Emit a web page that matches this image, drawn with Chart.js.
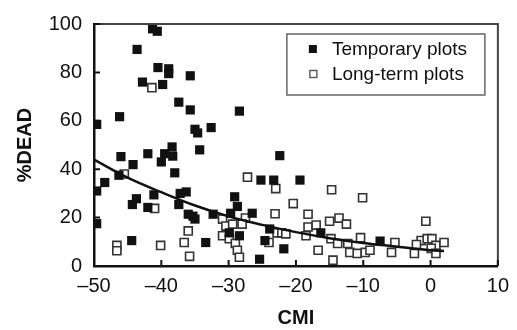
<!DOCTYPE html>
<html>
<head>
<meta charset="utf-8">
<script src="https://cdn.jsdelivr.net/npm/chart.js@4"></script>
<style>
html,body{margin:0;padding:0;background:#fff;}
#wrap{width:517px;height:330px;}
</style>
</head>
<body>
<div id="wrap"><canvas id="c" width="517" height="330"></canvas></div>
<script>
// ---- data ----
const seriesNames = ['Temporary plots', 'Long-term plots'];
const xTickLabels = ['\u201350', '\u201340', '\u201330', '\u201320', '\u201310', '0', '10'];
const yTickLabels = ['0', '20', '40', '60', '80', '100'];
const xAxisTitle = 'CMI';
const yAxisTitle = '%DEAD';

const temporaryCMI = [-41.3,-40.6,-43.6,-40.5,-38.9,-38.9,-35.7,-42.8,-39.8,-37.4,-35.7,-28.4,-49.6,-46.2,-35.0,-34.6,-32.6,-34.3,-42.0,-38.4,-39.5,-38.3,-46.0,-44.2,-40.0,-38.0,-48.4,-49.6,-46.3,-49.6,-44.3,-43.7,-44.4,-42.0,-41.1,-37.2,-37.4,-36.3,-36.0,-35.3,-35.0,-33.4,-32.3,-29.1,-22.4,-25.2,-23.3,-28.7,-29.7,-26.5,-29.9,-28.4,-25.4,-23.9,-24.6,-21.8,-19.4,-16.3,-7.5];
const temporaryDead = [98,97,89.5,82,81.5,79.5,78.6,76,75,67.7,64.5,64,58.5,61.7,56.5,55,57.2,48,46.4,49.2,46.4,45.4,45.2,41.9,43,38.5,34.5,31,37.5,17.5,25.4,27.8,10.5,24.2,29.4,30,25.4,30.6,21.4,20.6,19.4,9.7,21.4,28.6,45.6,35.5,35.5,24.6,21.8,21.8,13.7,12.5,2.8,15.3,10.5,7.1,35.5,13.7,10.3];

const longTermCMI = [-41.4,-45.5,-46.6,-46.6,-41.0,-40.1,-36.0,-36.6,-35.8,-27.2,-23.0,-27.5,-30.9,-30.4,-28.0,-29.4,-30.9,-29.9,-29.0,-28.7,-28.4,-23.1,-22.8,-22.1,-24.0,-14.7,-10.1,-20.4,-18.2,-15.0,-13.6,-12.5,-18.2,-17.0,-18.5,-21.5,-14.8,-13.8,-12.3,-10.4,-16.7,-14.5,-12.0,-10.9,-9.7,-9.0,-5.3,-5.8,-2.4,-0.7,-1.4,-0.5,0.2,0.8,0.1,2.0,0.8,-2.1];
const longTermDead = [73.7,38,8.5,6.3,23.8,8.5,14.5,9.7,4,36.7,32,19.8,19.4,16.5,17.3,17.3,12.5,11.3,9.3,6.5,3.6,21.6,13.7,13.7,9.7,31.5,28.2,25.8,21.4,18.5,19.8,17.3,16.1,16.9,12.5,13.3,11.3,9.3,9.3,11.7,6.5,2.4,5.6,5.2,5.6,6.5,9.7,5.6,5.2,18.5,10.5,11.3,11.3,8.5,7.3,9.7,5.2,8.9];

// fitted trend curve
const trendCMI  = [-50, -45, -40, -35, -30, -25, -20, -15, -10, -5, 0, 2];
const trendDead = [44, 36.5, 30.5, 25, 20.5, 17, 14, 11.5, 9.5, 8, 6.5, 6.2];

// ---- build ----
const toPts = (xs, ys) => xs.map((x, i) => ({x: x, y: ys[i]}));
const FONT = '"Liberation Sans", Arial, Helvetica, sans-serif';

const framePlugin = {
  id: 'framePlugin',
  afterDraw(chart) {
    const ctx = chart.ctx, a = chart.chartArea;
    const xs = chart.scales.x, ys = chart.scales.y;
    ctx.save();
    // top & right frame
    ctx.strokeStyle = '#444';
    ctx.lineWidth = 2;
    ctx.beginPath();
    ctx.moveTo(a.left, a.top);
    ctx.lineTo(a.right, a.top);
    ctx.lineTo(a.right, a.bottom);
    ctx.stroke();
    // inward ticks
    ctx.strokeStyle = '#111';
    ctx.lineWidth = 2;
    ctx.beginPath();
    xs.ticks.forEach(t => {
      const px = xs.getPixelForValue(t.value);
      ctx.moveTo(px, a.bottom);
      ctx.lineTo(px, a.bottom - 6);
    });
    ys.ticks.forEach(t => {
      const py = ys.getPixelForValue(t.value);
      ctx.moveTo(a.left, py);
      ctx.lineTo(a.left + 6, py);
    });
    ctx.stroke();
    // legend
    const bx = a.right - 211, by = a.top + 10, bw = 198, bh = 61;
    ctx.strokeStyle = '#666';
    ctx.lineWidth = 1.5;
    ctx.strokeRect(bx, by, bw, bh);
    ctx.font = '19px ' + FONT;
    ctx.textBaseline = 'middle';
    ctx.textAlign = 'left';
    const rows = [by + 15, by + 40];
    ctx.fillStyle = '#111';
    ctx.fillRect(bx + 22, rows[0] - 4, 8, 8);
    ctx.fillStyle = '#fff';
    ctx.strokeStyle = '#555';
    ctx.lineWidth = 1.4;
    ctx.fillRect(bx + 23, rows[1] - 3.5, 7, 7);
    ctx.strokeRect(bx + 23, rows[1] - 3.5, 7, 7);
    ctx.fillStyle = '#111';
    ctx.fillText(seriesNames[0], bx + 45, rows[0] + 1);
    ctx.fillText(seriesNames[1], bx + 45, rows[1] + 1);
    ctx.restore();
  }
};

new Chart(document.getElementById('c'), {
  type: 'scatter',
  data: {
    datasets: [
      {
        label: 'Trend',
        type: 'line',
        data: toPts(trendCMI, trendDead),
        borderColor: '#111',
        borderWidth: 2.5,
        pointRadius: 0,
        fill: false,
        tension: 0.4,
        order: 0
      },
      {
        label: seriesNames[0],
        data: toPts(temporaryCMI, temporaryDead),
        pointStyle: 'rect',
        pointRadius: 6.5,
        backgroundColor: '#111',
        borderColor: '#111',
        borderWidth: 0,
        order: 1
      },
      {
        label: seriesNames[1],
        data: toPts(longTermCMI, longTermDead),
        pointStyle: 'rect',
        pointRadius: 5.7,
        backgroundColor: '#fff',
        borderColor: '#333',
        borderWidth: 1.6,
        order: 2
      }
    ]
  },
  options: {
    responsive: false,
    animation: false,
    events: [],
    layout: { padding: { left: 0, top: 18, right: 12, bottom: 0 } },
    plugins: { legend: { display: false }, tooltip: { enabled: false } },
    scales: {
      x: {
        type: 'linear',
        min: -50, max: 10,
        afterFit: s => { s.height = 64; },
        ticks: {
          stepSize: 10,
          padding: 8,
          color: '#111',
          font: { family: FONT, size: 20 },
          maxRotation: 0,
          callback: (v, i) => xTickLabels[i]
        },
        grid: { drawOnChartArea: false, drawTicks: false },
        border: { display: true, color: '#111', width: 2.5 },
        title: {
          display: true, text: xAxisTitle, color: '#111',
          font: { family: FONT, size: 20, weight: 'bold' },
          padding: { top: 0, bottom: 0 }
        }
      },
      y: {
        type: 'linear',
        min: 0, max: 100,
        afterFit: s => { s.width = 94; },
        ticks: {
          stepSize: 20,
          padding: 12,
          color: '#111',
          font: { family: FONT, size: 20 },
          callback: (v, i) => yTickLabels[i]
        },
        grid: { drawOnChartArea: false, drawTicks: false },
        border: { display: true, color: '#111', width: 2.5 },
        title: {
          display: true, text: yAxisTitle, color: '#111',
          font: { family: FONT, size: 20, weight: 'bold' },
          padding: { top: 13, bottom: 0 }
        }
      }
    }
  },
  plugins: [framePlugin]
});
</script>
</body>
</html>
